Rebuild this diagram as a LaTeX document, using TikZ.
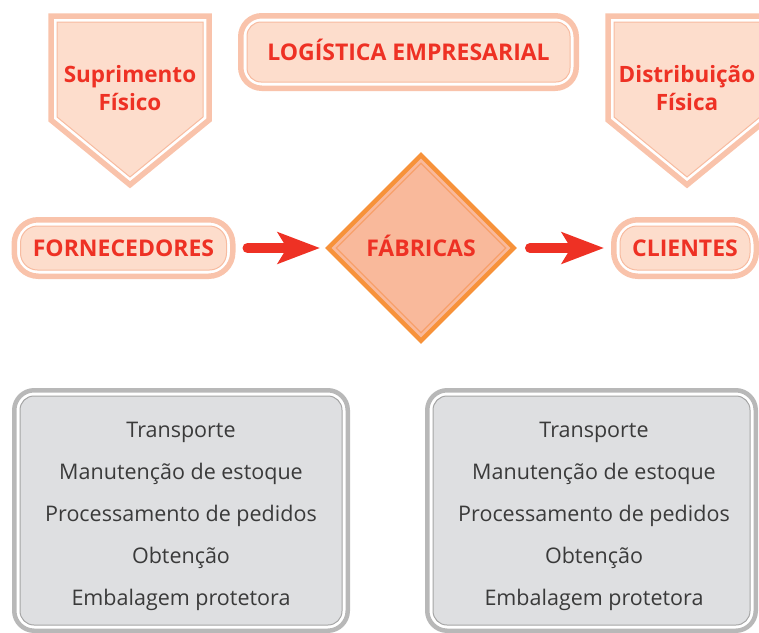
\documentclass[tikz,border=0pt]{standalone}
\usepackage{fontspec}
\setmainfont{Open Sans}
\usetikzlibrary{arrows.meta,shapes.geometric,fit,calc}
\definecolor{salband}{HTML}{F9C3AB}
\definecolor{pinkfill}{HTML}{FDDDCC}
\definecolor{pinkline}{HTML}{F7BBA0}
\definecolor{redt}{HTML}{EE3124}
\definecolor{orng}{HTML}{F7923A}
\definecolor{orng2}{HTML}{F8A06A}
\definecolor{fabfill}{HTML}{F9B99B}
\definecolor{grayband}{HTML}{B8B8B8}
\definecolor{grayfill}{HTML}{DEDFE1}
\definecolor{graythin}{HTML}{A5A5A5}
\definecolor{txtgray}{HTML}{3A3A3A}
\begin{document}
\begin{tikzpicture}[x=1pt,y=1pt,
  redtxt/.style={text=redt, font=\fontsize{22.5}{28}\selectfont\bfseries, align=center},
  onerow/.style={text height=16pt, text depth=0pt, font=\fontsize{23}{28}\selectfont\bfseries},
  pinkbox/.style={draw=pinkline, line width=1pt, fill=pinkfill, rounded corners=#1, inner sep=0pt, outer sep=0pt},
  pinkband/.style={draw=salband, line width=5.5pt, rounded corners=#1, inner sep=6.25pt, outer sep=0pt},
  pentband/.style={draw=salband, line width=5.5pt, line join=miter},
  pentinner/.style={draw=pinkline, line width=1pt, fill=pinkfill, line join=miter},
  graybox/.style={draw=graythin, line width=1pt, fill=grayfill, rounded corners=14pt, inner sep=0pt, outer sep=0pt},
  grayringband/.style={draw=grayband, line width=4.5pt, rounded corners=20pt, inner sep=5.75pt, outer sep=0pt},
  listtxt/.style={text=txtgray, font=\fontsize{21.5}{42}\selectfont, align=center},
  redarrow/.style={draw=redt, line width=10pt, line cap=round, -{Stealth[length=42pt, width=31pt, inset=9pt]}}
]
\useasboundingbox (0,0) rectangle (759,-632);
\clip (0,0) rectangle (759,-632);

% top-left pentagon
\draw[pentband] (51,-16) -- (209,-16) -- (209,-120) -- (130,-184.8) -- (51,-120) -- cycle;
\draw[pentinner] (57,-22) -- (203,-22) -- (203,-117) -- (130,-177) -- (57,-117) -- cycle;
\node[redtxt] (sup) at (130,-88) {Suprimento\\Físico};

% top-right pentagon
\draw[pentband] (608,-16) -- (766,-16) -- (766,-120) -- (687,-184.8) -- (608,-120) -- cycle;
\draw[pentinner] (614,-22) -- (760,-22) -- (760,-117) -- (687,-177) -- (614,-117) -- cycle;
\node[redtxt] (dist) at (687,-88) {Distribuição\\Física};

% title
\node[pinkbox=14pt, minimum width=323pt, minimum height=60pt, redtxt, onerow] (log) at (408.5,-52) {LOGÍSTICA EMPRESARIAL};
\node[pinkband=21pt, fit=(log)] (logband) {};

% row
\node[pinkbox=17pt, minimum width=206pt, minimum height=44pt, redtxt, onerow] (forn) at (123.5,-248) {FORNECEDORES};
\node[pinkband=24pt, fit=(forn)] (fornband) {};

\node[pinkbox=17pt, minimum width=130pt, minimum height=44pt, redtxt, onerow] (cli) at (685,-248) {CLIENTES};
\node[pinkband=24pt, fit=(cli)] (cliband) {};

\node[diamond, draw=orng, line width=4.5pt, fill=fabfill, minimum width=185.6pt, minimum height=185.6pt, inner sep=0pt, outer sep=0pt, redtxt, onerow] (fab) at (421,-248) {FÁBRICAS};
\draw[orng2, line width=1.2pt, line join=miter]
  ($(fab.north)!8.1pt!(fab.center)$) -- ($(fab.east)!8.1pt!(fab.center)$) --
  ($(fab.south)!8.1pt!(fab.center)$) -- ($(fab.west)!8.1pt!(fab.center)$) -- cycle;

\draw[redarrow, shorten <=21pt, shorten >=8.2pt] (forn.east) -- (fab.west);
\draw[redarrow, shorten <=16.2pt, shorten >=16pt] (fab.east) -- (cli.west);

% lower boxes
\node[graybox, minimum width=322pt, minimum height=229pt] (box1) at (181,-510.5) {};
\node[grayringband, fit=(box1)] (box1band) {};
\node[listtxt] (list1) at (181,-516) {Transporte\\Manutenção de estoque\\Processamento de pedidos\\Obtenção\\Embalagem protetora};

\node[graybox, minimum width=317pt, minimum height=229pt] (box2) at (591.5,-510.5) {};
\node[grayringband, fit=(box2)] (box2band) {};
\node[listtxt] (list2) at (594,-516) {Transporte\\Manutenção de estoque\\Processamento de pedidos\\Obtenção\\Embalagem protetora};
\end{tikzpicture}
\end{document}
